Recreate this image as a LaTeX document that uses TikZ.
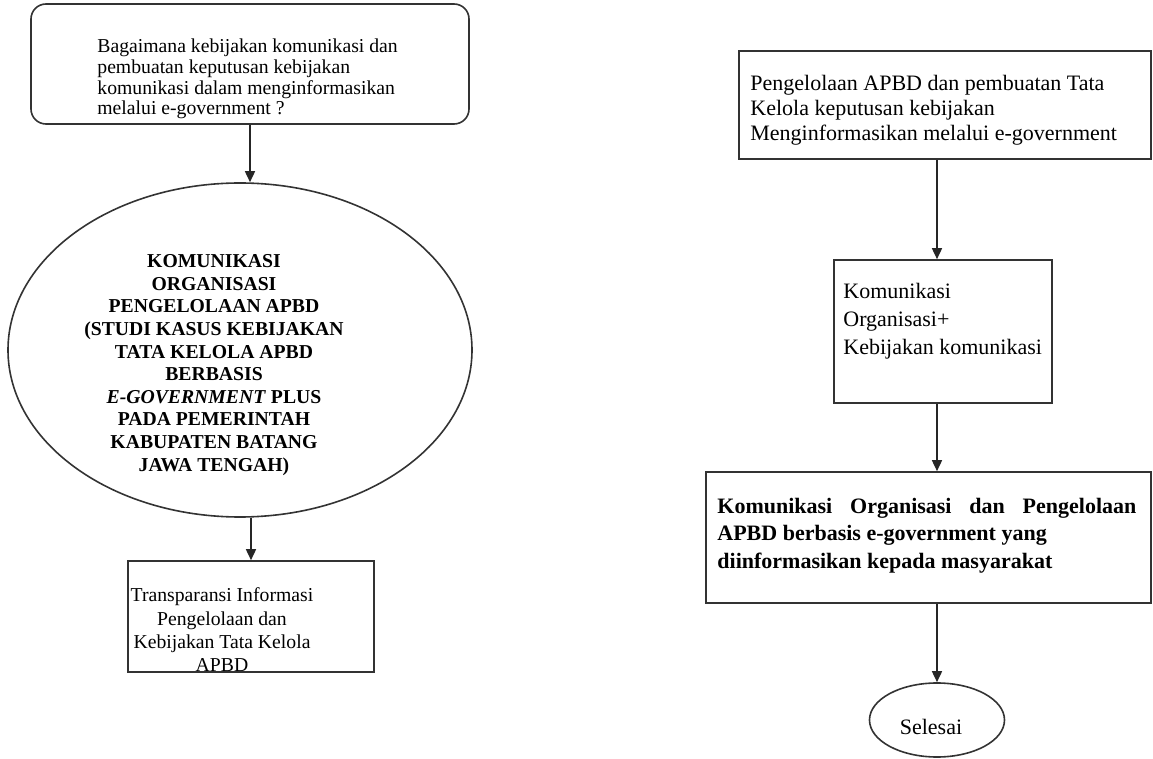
\documentclass[tikz,border=0pt]{standalone}
\usepackage{fontspec}
\setmainfont{Liberation Serif}
\usetikzlibrary{arrows.meta, shapes.geometric}

\tikzset{
  garis/.style={draw=black!80, line width=0.8pt},
  kotak/.style={garis, rectangle, inner sep=0pt},
  bulat/.style={garis, ellipse, inner sep=0pt},
  teks/.style={inner sep=0pt, align=left, font=\fontsize{9.85}{10.35}\selectfont},
  panah/.style={draw=black!85, line width=0.8pt, -{Triangle[length=5.5pt,width=5pt]}},
}

\begin{document}
\begin{tikzpicture}[x=0.5pt, y=-0.5pt]
  \useasboundingbox (0,0) rectangle (1153,759);
  % Kolom kiri
  \node[kotak, rounded corners=7.5pt, minimum width=219pt, minimum height=60pt] (tanya) at (250,64) {};
  \node[teks, anchor=west] (tanyateks) at (97,79) {Bagaimana kebijakan komunikasi dan\\pembuatan keputusan kebijakan\\komunikasi dalam menginformasikan\\melalui e-government ?};
  \node[bulat, minimum width=232pt, minimum height=167pt] (judul) at (240,350) {};
  \node[teks, align=center, font=\bfseries\fontsize{9.85}{11.3}\selectfont] (judulteks) at (214,365)
    {KOMUNIKASI\\ORGANISASI\\PENGELOLAAN APBD\\(STUDI KASUS KEBIJAKAN\\TATA KELOLA APBD\\BERBASIS\\\textit{E-GOVERNMENT} PLUS\\PADA PEMERINTAH\\KABUPATEN BATANG\\JAWA TENGAH)};
  \node[kotak, minimum width=123pt, minimum height=55.5pt] (transparansi) at (251,616.5) {};
  \node[teks, align=center, font=\fontsize{9.85}{11.65}\selectfont] (transteks) at (222,630)
    {Transparansi Informasi\\Pengelolaan dan\\Kebijakan Tata Kelola\\APBD};
  % Kolom kanan
  \node[kotak, minimum width=206pt, minimum height=54pt] (kelola) at (945,105) {};
  \node[teks, anchor=west, font=\fontsize{11}{12.5}\selectfont] (kelolateks) at (750,110)
    {Pengelolaan APBD dan pembuatan Tata\\Kelola keputusan kebijakan\\Menginformasikan melalui e-government};
  \node[kotak, minimum width=109pt, minimum height=71.5pt] (komorg) at (943,331.5) {};
  \node[teks, anchor=west, font=\fontsize{11}{14}\selectfont] (komorgteks) at (843,321)
    {Komunikasi\\Organisasi+\\Kebijakan komunikasi};
  \node[kotak, minimum width=222.5pt, minimum height=65.5pt] (hasil) at (928.5,537.5) {};
  \node[teks, anchor=west, font=\bfseries\fontsize{11}{13.75}\selectfont] (hasilteks) at (717,535.5)
    {\makebox[209.5pt][s]{Komunikasi Organisasi dan Pengelolaan}\\APBD berbasis e-government yang\\diinformasikan kepada masyarakat};
  \node[bulat, minimum width=67.5pt, minimum height=37pt] (selesai) at (937,720) {};
  \node[teks, font=\fontsize{11}{13}\selectfont] (selesaiteks) at (931,727) {Selesai};
  % Panah
  \draw[panah] (tanya.south) -- (tanya.south |- judul.north);
  \draw[panah] (transparansi.north |- judul.south) -- (transparansi.north);
  \draw[panah] (kelola.south -| selesai.north) -- (komorg.north -| selesai.north);
  \draw[panah] (komorg.south -| selesai.north) -- (hasil.north -| selesai.north);
  \draw[panah] (hasil.south -| selesai.north) -- (selesai.north);
\end{tikzpicture}
\end{document}
